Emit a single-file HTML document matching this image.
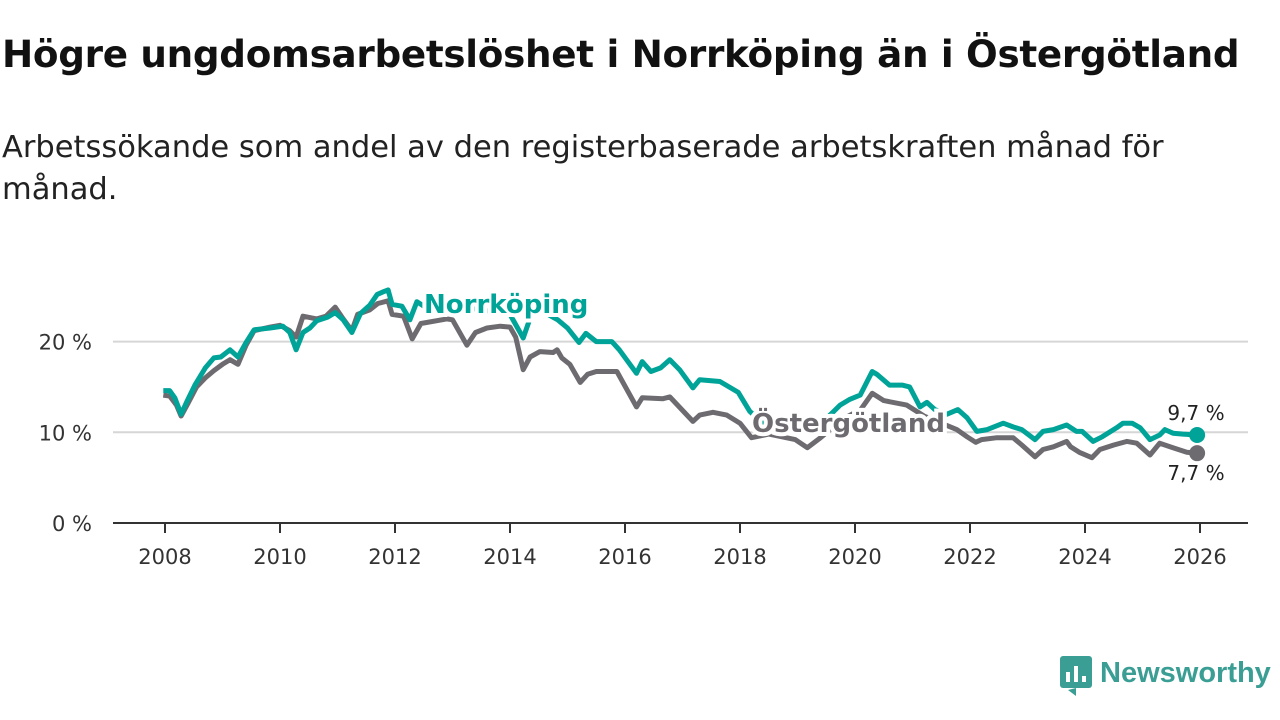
<!DOCTYPE html>
<html><head><meta charset="utf-8">
<style>
body{margin:0;width:1280px;height:720px;background:#fff;overflow:hidden;font-family:"Liberation Sans","DejaVu Sans",sans-serif;}
#title{position:absolute;left:2px;top:32px;font-size:37.3px;font-weight:bold;color:#111;font-family:"DejaVu Sans","Liberation Sans",sans-serif;letter-spacing:-0.3px;white-space:nowrap;}
#sub{position:absolute;left:2px;top:127px;width:1185px;font-size:30.5px;line-height:42px;color:#222;font-family:"DejaVu Sans","Liberation Sans",sans-serif;}
svg{position:absolute;left:0;top:0;}
</style></head><body>
<div id="title">Högre ungdomsarbetslöshet i Norrköping än i Östergötland</div>
<div id="sub">Arbetssökande som andel av den registerbaserade arbetskraften månad för månad.</div>
<svg id="chart" width="1280" height="720"></svg>
<script>
const yearTicks=[2008,2010,2012,2014,2016,2018,2020,2022,2024,2026];
const yTicks=[0,10,20];
const yTickLabels=["0 %","10 %","20 %"];
const norrT=[2007.97,2008.08,2008.17,2008.28,2008.38,2008.52,2008.7,2008.85,2008.97,2009.13,2009.27,2009.41,2009.55,2009.83,2010.05,2010.17,2010.28,2010.4,2010.52,2010.64,2010.83,2010.96,2011.1,2011.25,2011.4,2011.56,2011.69,2011.8,2011.88,2011.95,2012.12,2012.26,2012.38,2012.6,2013.0,2013.5,2014.0,2014.23,2014.4,2014.6,2014.83,2015.0,2015.2,2015.32,2015.5,2015.77,2015.9,2016.2,2016.3,2016.45,2016.62,2016.78,2016.95,2017.18,2017.3,2017.65,2017.97,2018.17,2018.4,2018.8,2019.17,2019.5,2019.74,2019.9,2020.09,2020.3,2020.38,2020.6,2020.82,2020.95,2021.13,2021.25,2021.39,2021.6,2021.79,2021.95,2022.12,2022.3,2022.58,2022.75,2022.9,2023.13,2023.27,2023.45,2023.68,2023.85,2023.95,2024.14,2024.3,2024.55,2024.66,2024.82,2024.96,2025.13,2025.3,2025.39,2025.53,2025.7,2025.95];
const norrV=[14.6,14.6,13.8,12.0,13.4,15.2,17.1,18.2,18.3,19.1,18.3,19.9,21.3,21.5,21.7,21.0,19.1,21.0,21.5,22.3,22.7,23.2,22.4,21.0,23.1,24.0,25.2,25.5,25.7,24.1,23.9,22.4,24.4,23.5,24.0,23.5,23.0,20.4,23.5,23.2,22.4,21.5,19.9,20.9,20.0,20.0,19.1,16.5,17.8,16.7,17.1,18.0,16.9,14.9,15.8,15.6,14.4,12.3,11.0,10.8,10.0,11.5,13.0,13.6,14.1,16.7,16.4,15.2,15.2,15.0,12.8,13.3,12.5,12.0,12.5,11.6,10.1,10.3,11.0,10.6,10.3,9.2,10.1,10.3,10.8,10.1,10.1,9.0,9.5,10.5,11.0,11.0,10.5,9.2,9.7,10.3,9.9,9.8,9.7];
const ostT=[2007.97,2008.08,2008.2,2008.28,2008.4,2008.55,2008.7,2008.85,2009.0,2009.13,2009.27,2009.41,2009.55,2009.83,2010.0,2010.17,2010.28,2010.4,2010.64,2010.8,2010.96,2011.1,2011.25,2011.35,2011.56,2011.7,2011.88,2011.95,2012.15,2012.3,2012.45,2012.9,2013.0,2013.25,2013.4,2013.6,2013.83,2014.0,2014.1,2014.23,2014.35,2014.52,2014.75,2014.82,2014.9,2015.04,2015.22,2015.35,2015.5,2015.86,2016.2,2016.3,2016.66,2016.78,2017.18,2017.3,2017.53,2017.77,2018.0,2018.2,2018.5,2018.96,2019.17,2019.4,2019.8,2020.1,2020.3,2020.5,2020.9,2021.2,2021.5,2021.77,2021.95,2022.1,2022.2,2022.47,2022.75,2022.9,2023.13,2023.27,2023.45,2023.68,2023.75,2023.9,2024.12,2024.26,2024.5,2024.73,2024.9,2025.13,2025.3,2025.53,2025.77,2025.95];
const ostV=[14.1,14.0,13.0,11.8,13.2,15.0,16.0,16.8,17.5,18.0,17.5,19.6,21.2,21.6,21.8,21.2,20.5,22.8,22.5,22.8,23.8,22.5,21.2,23.0,23.5,24.2,24.5,23.0,22.8,20.3,22.0,22.5,22.4,19.6,21.0,21.5,21.7,21.6,20.5,16.9,18.3,18.9,18.8,19.1,18.2,17.5,15.5,16.4,16.7,16.7,12.8,13.8,13.7,13.9,11.2,11.9,12.2,11.9,11.0,9.4,9.8,9.2,8.3,9.4,11.5,12.5,14.3,13.5,13.0,11.8,11.0,10.3,9.5,8.9,9.2,9.4,9.4,8.6,7.3,8.1,8.4,9.0,8.4,7.8,7.2,8.1,8.6,9.0,8.8,7.5,8.8,8.3,7.8,7.7];
const ns="http://www.w3.org/2000/svg";
const svg=document.getElementById('chart');
const X=y=>165+(y-2008)*(1200-165)/18;
const Y=v=>523-v*9.07;
function mk(t,a,p){const e=document.createElementNS(ns,t);for(const k in a)e.setAttribute(k,a[k]);(p||svg).appendChild(e);return e;}
yTicks.forEach((v,i)=>{
 if(v>0){const g=mk('line',{x1:113,x2:1248,y1:Y(v),y2:Y(v),stroke:'#d6d6d6','stroke-width':2});
 
 }
 const t=mk('text',{x:92,y:Y(v)+8,'text-anchor':'end','font-size':21,fill:'#333','font-family':'DejaVu Sans, Liberation Sans, sans-serif'});t.textContent=yTickLabels[i];
 
 
});
const ax=mk('line',{x1:113,x2:1248,y1:523,y2:523,stroke:'#333','stroke-width':2});


yearTicks.forEach(yr=>{
 mk('line',{x1:X(yr),x2:X(yr),y1:523,y2:533,stroke:'#333','stroke-width':2});
 const t=mk('text',{x:X(yr),y:564,'text-anchor':'middle','font-size':21,fill:'#333','font-family':'DejaVu Sans, Liberation Sans, sans-serif'});t.textContent=yr;
 
 
});
function line(T,V,c,name){
 const d=T.map((t,i)=>(i?'L':'M')+X(t).toFixed(1)+','+Y(V[i]).toFixed(1)).join('');
 const p=mk('path',{d:d,fill:'none',stroke:c,'stroke-width':5,'stroke-linejoin':'round'});
 
 
 const n=T.length-1;
 const dot=mk('circle',{cx:X(T[n]),cy:Y(V[n]),r:8,fill:c});
 
 
}
line(ostT,ostV,'#6d6b70','ostergotland-line');
line(norrT,norrV,'#00a398','norrkoping-line');
function lbl(x,y,txt,c,name,bold,sz,anchor){
 const t=mk('text',{x:x,y:y,'font-size':sz,'font-weight':bold?'bold':'normal',fill:c,stroke:'#fff','stroke-width':bold?8:0,'paint-order':'stroke','text-anchor':anchor||'start','font-family':'DejaVu Sans, Liberation Sans, sans-serif'});
 t.textContent=txt;
 
 
}
lbl(424,313,'Norrköping','#00a398','norrkoping-label',true,26);
lbl(752,432,'Östergötland','#6d6b70','ostergotland-label',true,26);
lbl(1196,420,'9,7 %','#222','norrkoping-end-value',false,20,'middle');
lbl(1196,480,'7,7 %','#222','ostergotland-end-value',false,20,'middle');
const lg=mk('g',{});


mk('rect',{x:1060,y:656,width:32,height:32,rx:3,fill:'#3a9e94'},lg);
mk('path',{d:'M1068,690 L1076,696 L1076,688 Z',fill:'#3a9e94'},lg);
mk('rect',{x:1066,y:672,width:4,height:10,fill:'#fff'},lg);
mk('rect',{x:1074,y:666,width:4,height:16,fill:'#fff'},lg);
mk('rect',{x:1082,y:676,width:4,height:6,fill:'#fff'},lg);
const lt=mk('text',{x:1100,y:682,'font-size':29,'font-weight':'bold',fill:'#3a9e94','font-family':'Liberation Sans, sans-serif'},lg);lt.textContent='Newsworthy';
</script>
</body></html>
